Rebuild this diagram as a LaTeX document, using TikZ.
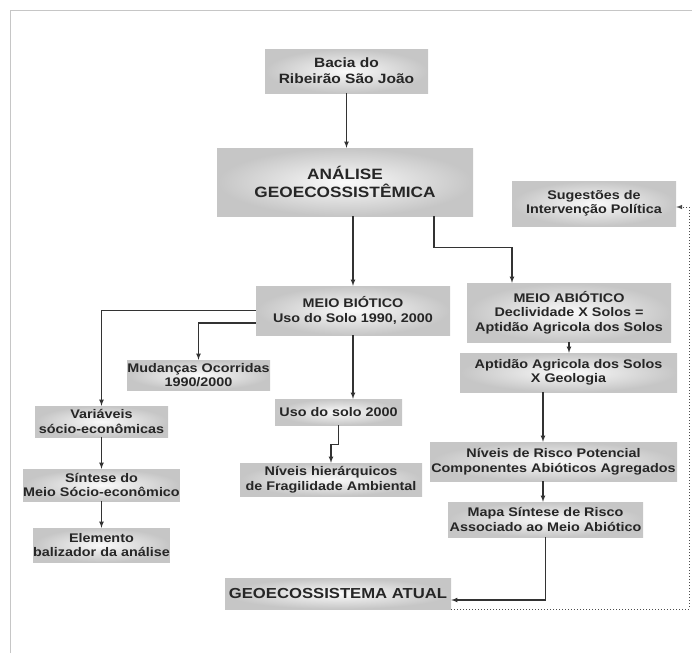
\documentclass[tikz,border=0pt]{standalone}
\usepackage{fontspec}
\setmainfont{Liberation Sans}[FakeStretch=1.15]
\usepackage{tikz}
\usetikzlibrary{arrows}
\tikzset{
	caixa/.style={inner sep=0pt, align=center, text=black!85,
		font=\bfseries\fontsize{12.5}{14.5}\selectfont,
		shading=radial, inner color=gray!4, outer color=gray!45},
	liga/.style={-latex, line width=1.1pt, black!80},
	pontilhado/.style={-latex, dotted, line width=1pt, black!70}
}

\begin{document}
\begin{tikzpicture}[x=1pt, y=-1pt]
	\useasboundingbox (0,0) rectangle (692,653);
	\draw[gray!45, line width=0.8pt] (10,653) -- (10,10) -- (692,10);

	% caixas
	\node[caixa, minimum width=163pt, minimum height=44pt, font=\bfseries\fontsize{13.5}{16}\selectfont] (bacia) at (346.5,71) {Bacia do\\Ribeirão São João};
	\node[caixa, minimum width=256pt, minimum height=68pt, font=\bfseries\fontsize{15}{18}\selectfont] (analise) at (345,182) {ANÁLISE\\GEOECOSSISTÊMICA};
	\node[caixa, minimum width=164pt, minimum height=45pt] (sugest) at (594,203.5) {Sugestões de\\Intervenção Política};
	\node[caixa, minimum width=194pt, minimum height=49pt] (biotico) at (353,310.5) {MEIO BIÓTICO\\Uso do Solo 1990, 2000};
	\node[caixa, minimum width=204pt, minimum height=59pt] (abiotico) at (569,312.5) {MEIO ABIÓTICO\\Declividade X Solos =\\Aptidão Agricola dos Solos};
	\node[caixa, minimum width=217pt, minimum height=39pt] (aptidao) at (568.5,372.5) {Aptidão Agricola dos Solos\\X Geologia};
	\node[caixa, minimum width=143pt, minimum height=30pt] (mudancas) at (198.5,375) {Mudanças Ocorridas\\1990/2000};
	\node[caixa, minimum width=133pt, minimum height=31pt] (variaveis) at (101.5,421.5) {Variáveis\\sócio-econômicas};
	\node[caixa, minimum width=127pt, minimum height=26pt] (uso) at (338.5,412) {Uso do solo 2000};
	\node[caixa, minimum width=155pt, minimum height=32pt] (sintese) at (101.5,485) {Síntese do\\Meio Sócio-econômico};
	\node[caixa, minimum width=182pt, minimum height=33pt] (nivhier) at (331,479.5) {Níveis hierárquicos\\de Fragilidade Ambiental};
	\node[caixa, minimum width=247pt, minimum height=39pt] (risco) at (553.5,461.5) {Níveis de Risco Potencial\\Componentes Abióticos Agregados};
	\node[caixa, minimum width=135pt, minimum height=34pt] (elemento) at (101.5,545) {Elemento\\balizador da análise};
	\node[caixa, minimum width=195pt, minimum height=35pt] (mapa) at (545.5,519.5) {Mapa Síntese de Risco\\Associado ao Meio Abiótico};
	\node[caixa, minimum width=226pt, minimum height=31pt, font=\bfseries\fontsize{14.5}{17}\selectfont] (geo) at (338,593.5) {GEOECOSSISTEMA ATUAL};

	% ligacoes
	\draw[liga] (bacia.south) -- (bacia.south |- analise.north);
	\draw[liga] (analise.south -| biotico.north) -- (biotico.north);
	\draw[liga] ([xshift=89pt]analise.south) -- ++(0,31) -| ([xshift=-57pt]abiotico.north);
	\draw[liga] (biotico.west) -| (variaveis.north);
	\draw[liga] ([yshift=-12.5pt]biotico.west) -| (mudancas.north);
	\draw[liga] (biotico.south) -- (biotico.south |- uso.north);
	\draw[liga] (uso.south) -- ++(0,19) -| (nivhier.north);
	\draw[liga] (variaveis.south) -- (sintese.north);
	\draw[liga] (sintese.south) -- (elemento.north);
	\draw[liga] (abiotico.south) -- (abiotico.south |- aptidao.north);
	\coordinate (desce) at ([xshift=-25.5pt]aptidao.south);
	\draw[liga] (desce) -- (desce |- risco.north);
	\draw[liga] (desce |- risco.south) -- (desce |- mapa.north);
	\draw[liga] (mapa.south) |- ([yshift=-6.5pt]geo.east);
	\draw[pontilhado] (geo.south east) -- ++(238,0) |- ([yshift=-3.5pt]sugest.east);
\end{tikzpicture}
\end{document}
